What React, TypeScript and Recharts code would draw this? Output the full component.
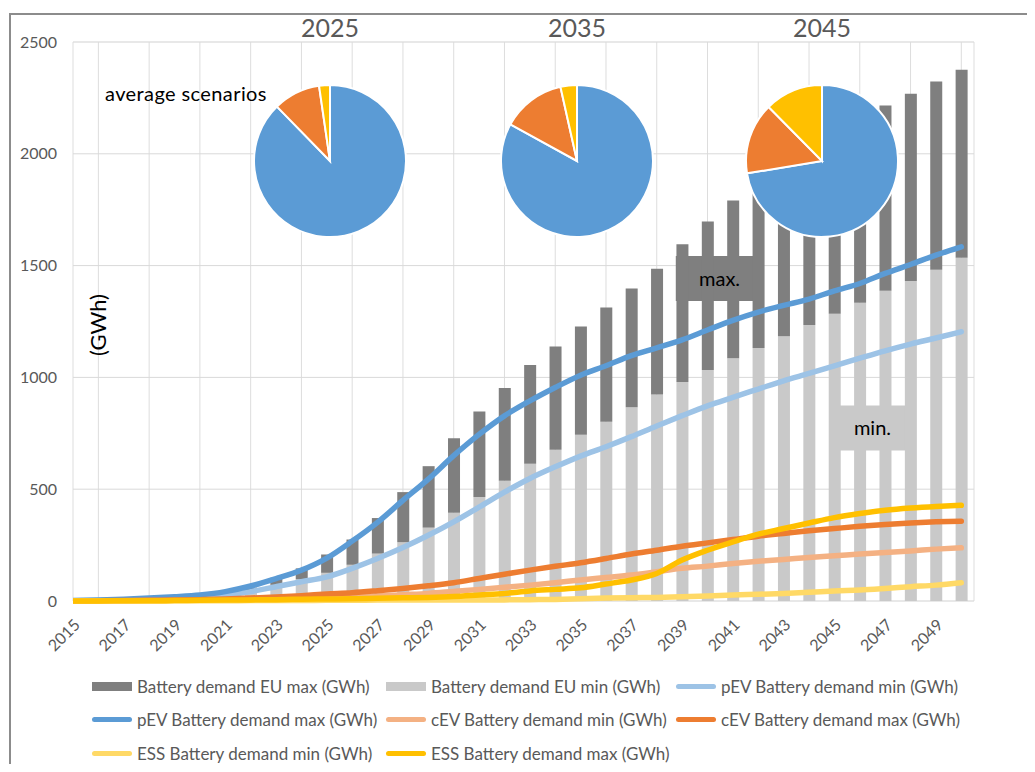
import React from 'react';
import {
  ComposedChart, Bar, Line, XAxis, YAxis, CartesianGrid, ReferenceArea, PieChart, Pie, Cell,
} from 'recharts';

// ---------- data ----------
const years = [2015, 2016, 2017, 2018, 2019, 2020, 2021, 2022, 2023, 2024, 2025, 2026, 2027, 2028, 2029, 2030, 2031, 2032, 2033, 2034, 2035, 2036, 2037, 2038, 2039, 2040, 2041, 2042, 2043, 2044, 2045, 2046, 2047, 2048, 2049, 2050];
const xTickLabels = [2015, 2017, 2019, 2021, 2023, 2025, 2027, 2029, 2031, 2033, 2035, 2037, 2039, 2041, 2043, 2045, 2047, 2049];
const yTicks = [0, 500, 1000, 1500, 2000, 2500];
const yMinorTicks = [0, 100, 200, 300, 400, 500, 600, 700, 800, 900, 1000, 1100, 1200, 1300, 1400, 1500, 1600, 1700, 1800, 1900, 2000, 2100, 2200, 2300, 2400, 2500];

const euMin = [1, 2, 3, 5, 8, 12, 20, 42, 72, 97, 126, 162, 212, 263, 328, 395, 465, 538, 614, 676, 743, 802, 866, 923, 979, 1033, 1086, 1131, 1184, 1234, 1285, 1334, 1387, 1431, 1481, 1535];
const euMax = [2, 3, 5, 8, 12, 18, 30, 60, 104, 146, 208, 275, 371, 487, 603, 728, 847, 953, 1055, 1138, 1228, 1313, 1398, 1486, 1595, 1697, 1791, 1870, 1945, 2020, 2090, 2155, 2216, 2269, 2323, 2376];
const pevMin = [1, 2, 4, 7, 11, 16, 25, 42, 64, 86, 108, 146, 190, 239, 294, 354, 420, 487, 548, 600, 648, 690, 735, 783, 829, 873, 911, 948, 985, 1018, 1052, 1086, 1119, 1149, 1176, 1204];
const pevMax = [2, 4, 8, 13, 19, 27, 42, 67, 100, 138, 192, 268, 352, 450, 545, 650, 745, 828, 895, 955, 1010, 1052, 1097, 1132, 1168, 1212, 1255, 1292, 1322, 1350, 1387, 1420, 1465, 1505, 1547, 1584];
const cevMin = [0, 0, 1, 2, 3, 4, 6, 8, 10, 12, 15, 18, 22, 28, 34, 43, 52, 61, 71, 82, 94, 105, 116, 131, 146, 156, 168, 178, 186, 195, 202, 210, 217, 224, 232, 238];
const cevMax = [0, 1, 2, 3, 4, 6, 9, 13, 18, 24, 31, 37, 46, 56, 68, 82, 101, 120, 138, 155, 171, 190, 210, 227, 245, 260, 275, 290, 302, 314, 324, 334, 342, 349, 354, 357];
const essMin = [0, 0, 0, 0, 1, 1, 1, 2, 2, 2, 3, 3, 4, 4, 5, 5, 5, 5, 6, 7, 10, 13, 15, 16, 19, 22, 27, 30, 34, 39, 45, 49, 56, 64, 71, 82];
const essMax = [0, 0, 1, 1, 2, 3, 4, 5, 6, 8, 9, 10, 12, 14, 16, 20, 27, 34, 45, 52, 59, 76, 94, 123, 183, 227, 264, 299, 324, 349, 373, 391, 406, 416, 423, 428];

const pieSegments = ['pEV', 'cEV', 'ESS'];
const pieTitles = ['2025', '2035', '2045'];
const pie2025 = [87.7, 10.0, 2.3];
const pie2035 = [83.0, 13.5, 3.5];
const pie2045 = [72.4, 15.2, 12.4];

// ---------- styles ----------
const C = {
  dark: '#7F7F7F',
  light: '#C9C9C9',
  blue: '#5B9BD5',
  lightBlue: '#9DC3E6',
  orange: '#ED7D31',
  lightOrange: '#F4B183',
  yellow: '#FFC000',
  lightYellow: '#FFD966',
  text: '#595959',
};
const FONT = 'Lato, "Open Sans", sans-serif';
const pieColors = [C.blue, C.orange, C.yellow];

const data = years.map((y, i) => ({
  year: y,
  euMin: euMin[i],
  euMaxExtra: euMax[i] - euMin[i],
  pevMin: pevMin[i],
  pevMax: pevMax[i],
  cevMin: cevMin[i],
  cevMax: cevMax[i],
  essMin: essMin[i],
  essMax: essMax[i],
}));

const lineSeries = [
  { key: 'pevMin', color: C.lightBlue },
  { key: 'pevMax', color: C.blue },
  { key: 'cevMin', color: C.lightOrange },
  { key: 'cevMax', color: C.orange },
  { key: 'essMin', color: C.lightYellow },
  { key: 'essMax', color: C.yellow },
];

const legendRows = [
  [
    { name: 'Battery demand EU max (GWh)', color: C.dark, kind: 'bar' },
    { name: 'Battery demand EU min (GWh)', color: C.light, kind: 'bar' },
    { name: 'pEV Battery demand min (GWh)', color: C.lightBlue, kind: 'line' },
  ],
  [
    { name: 'pEV Battery demand max (GWh)', color: C.blue, kind: 'line' },
    { name: 'cEV Battery demand min (GWh)', color: C.lightOrange, kind: 'line' },
    { name: 'cEV Battery demand max (GWh)', color: C.orange, kind: 'line' },
  ],
  [
    { name: 'ESS Battery demand min (GWh)', color: C.lightYellow, kind: 'line' },
    { name: 'ESS Battery demand max (GWh)', color: C.yellow, kind: 'line' },
  ],
];
const legendColX = [84, 378, 668];
const legendRowY = [678, 711, 745];

function PieInset({ cx, cy, values, title }: { cx: number; cy: number; values: number[]; title: string }) {
  const pd = values.map((v, i) => ({ name: pieSegments[i], value: v }));
  return (
    <>
      <div style={{ position: 'absolute', left: cx - 60, top: 4, width: 120, textAlign: 'center', fontSize: 25, lineHeight: '30px', color: C.text, fontFamily: FONT }}>
        {title}
      </div>
      <div style={{ position: 'absolute', left: cx - 85, top: cy - 85 }}>
        <PieChart width={170} height={170} margin={{ top: 0, right: 0, bottom: 0, left: 0 }}>
          <Pie data={pd} dataKey="value" cx={85} cy={85} outerRadius={76} innerRadius={0} startAngle={90} endAngle={-270} stroke="#ffffff" strokeWidth={2} isAnimationActive={false}>
            {pd.map((d, i) => <Cell key={d.name} fill={pieColors[i]} />)}
          </Pie>
        </PieChart>
      </div>
    </>
  );
}

export default function App() {
  return (
    <div style={{ position: 'relative', width: 1019, height: 756, overflow: 'hidden', background: '#ffffff', fontFamily: FONT }}>
      <div style={{ position: 'absolute', left: 1, top: 5, width: 1100, height: 900, border: '2px solid #8C8C8C', boxSizing: 'border-box' }} />
      <div style={{ position: 'absolute', left: 0, top: 0 }}>
        <ComposedChart width={1019} height={668} data={data} margin={{ top: 34, right: 8, left: 15, bottom: 30 }}>
          <CartesianGrid yAxisId="minor" vertical={false} stroke="#EFEFEF" />
          <CartesianGrid xAxisId="yearGrid" horizontal={false} stroke="#DDDDDD" />
          <CartesianGrid vertical={false} stroke="#D9D9D9" />
          <XAxis xAxisId="yearGrid" dataKey="year" type="number" domain={[2015, 2050.5]} ticks={years} hide />
          <XAxis
            dataKey="year" type="number" domain={[2015, 2050.5]} ticks={xTickLabels} interval={0}
            tickSize={0} tickMargin={17} axisLine={false} tickLine={false} height={45} allowDataOverflow
            tick={{ angle: -45, textAnchor: 'end', fill: C.text, fontSize: 16, fontFamily: FONT }}
          />
          <YAxis yAxisId="minor" domain={[0, 2500]} ticks={yMinorTicks} hide />
          <YAxis
            domain={[0, 2500]} ticks={yTicks} width={50} tickSize={0} tickMargin={16} axisLine={false} tickLine={false}
            tick={{ fill: C.text, fontSize: 16, fontFamily: FONT }}
          />
          <YAxis
            yAxisId="right" orientation="right" domain={[0, 2500]} ticks={yTicks} width={45} tickSize={0} tickMargin={16}
            axisLine={false} tickLine={false} tick={{ fill: C.text, fontSize: 16, fontFamily: FONT, textAnchor: 'start' }}
          />
          <Bar dataKey="euMin" stackId="eu" fill={C.light} barSize={12} isAnimationActive={false} />
          <Bar dataKey="euMaxExtra" stackId="eu" fill={C.dark} barSize={12} isAnimationActive={false} />
          <ReferenceArea x1={2038.75} x2={2042.2} y1={1342} y2={1543} fill={C.dark} fillOpacity={1} stroke="none" ifOverflow="visible"
            label={{ value: 'max.', position: 'center', fill: '#000000', fontSize: 20, fontFamily: FONT }} />
          <ReferenceArea x1={2044.8} x2={2048.2} y1={673} y2={874} fill={C.light} fillOpacity={1} stroke="none" ifOverflow="visible"
            label={{ value: 'min.', position: 'center', fill: '#000000', fontSize: 20, fontFamily: FONT }} />
          {lineSeries.map((s) => (
            <Line key={s.key} dataKey={s.key} type="monotone" stroke={s.color} strokeWidth={5.5} strokeLinecap="round"
              dot={false} activeDot={false} isAnimationActive={false} />
          ))}
        </ComposedChart>
      </div>

      <div style={{ position: 'absolute', left: 97, top: 73, fontSize: 20, letterSpacing: 0.4, lineHeight: '24px', color: '#000', whiteSpace: 'nowrap' }}>
        average scenarios
      </div>
      <div style={{ position: 'absolute', left: 90, top: 317, fontSize: 22, lineHeight: '26px', color: '#000', whiteSpace: 'nowrap', transform: 'translate(-50%, -50%) rotate(-90deg)' }}>
        (GWh)
      </div>

      <PieInset cx={322} cy={153} values={pie2025} title={pieTitles[0]} />
      <PieInset cx={569} cy={153} values={pie2035} title={pieTitles[1]} />
      <PieInset cx={814} cy={153} values={pie2045} title={pieTitles[2]} />

      {legendRows.map((row, r) =>
        row.map((item, c) => (
          <div key={item.name} style={{ position: 'absolute', left: legendColX[c], top: legendRowY[r] - 12, height: 24, display: 'flex', alignItems: 'center', whiteSpace: 'nowrap' }}>
            {item.kind === 'bar' ? (
              <span style={{ display: 'inline-block', width: 40, height: 9, background: item.color, marginRight: 5 }} />
            ) : (
              <span style={{ display: 'inline-block', width: 40, height: 5, borderRadius: 3, background: item.color, marginRight: 5 }} />
            )}
            <span style={{ fontSize: 17, color: C.text }}>{item.name}</span>
          </div>
        ))
      )}
    </div>
  );
}
